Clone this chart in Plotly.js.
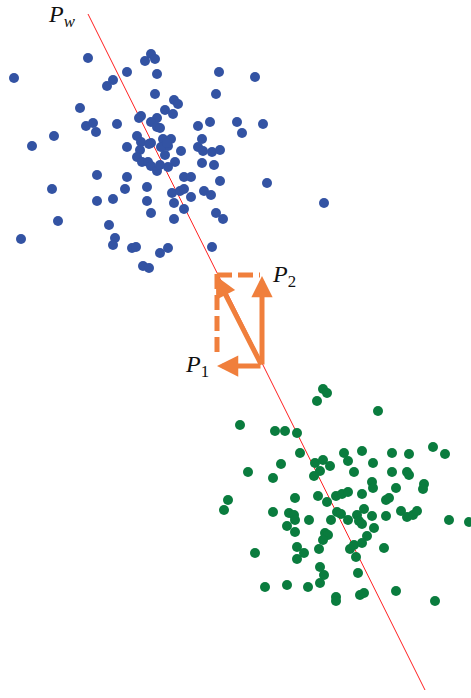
<!DOCTYPE html>
<html>
<head>
<meta charset="utf-8">
<script src="https://cdn.plot.ly/plotly-3.0.1.min.js"></script>
<style>html,body{margin:0;padding:0;background:#fff;}#chart{width:471px;height:698px;}</style>
</head>
<body>
<div id="chart"></div>
<script>
// Class 1 (blue) points
const blueX = [88,14,151,145,155,127,113,107,157,219,255,155,216,80,174,178,141,165,173,157,151,157,160,198,210,237,242,263,117,86,93,96,54,32,137,141,151,163,171,168,161,127,140,181,198,202,203,212,220,137,142,165,175,202,214,148,151,157,168,97,127,184,191,52,125,147,220,267,172,180,184,204,211,97,113,147,174,191,324,184,151,216,223,174,58,109,21,115,113,132,136,160,168,212,143,149,149,160,139,167];
const blueY = [58,78,54,61,59,72,80,86,74,72,77,94,94,108,100,104,116,110,114,118,122,127,128,126,122,122,133,124,124,126,123,132,136,146,136,142,143,139,139,146,147,147,150,151,147,139,151,152,150,157,162,155,162,163,165,162,166,171,167,175,177,177,177,189,189,187,181,183,193,191,189,191,195,201,199,201,203,197,203,209,213,213,219,219,221,225,239,238,245,248,247,253,248,247,266,268,144,165,118,143];
// Class 2 (green) points
const greenX = [323,327,317,378,240,275,285,297,300,344,362,392,409,433,445,281,248,273,315,323,330,320,314,348,373,354,392,407,409,372,373,396,424,423,228,224,295,318,327,336,342,348,362,386,389,273,289,294,295,287,295,309,331,337,341,348,357,359,364,362,372,374,386,401,407,413,417,449,469,325,328,323,367,255,297,304,297,319,350,354,362,356,384,320,324,320,358,265,287,308,336,336,360,364,396,435];
const greenY = [389,393,401,411,425,431,431,433,453,453,451,453,454,447,454,464,472,478,463,460,466,471,476,461,463,472,472,472,475,482,488,488,484,489,500,510,498,496,502,496,494,492,494,500,498,512,513,515,520,526,532,520,520,512,514,520,515,521,509,524,516,528,516,511,517,515,511,520,522,533,535,540,536,553,547,553,559,549,549,545,543,557,548,567,575,583,573,587,585,587,597,601,595,593,591,601];
// Projection direction line P_w
const lineX = [88, 425];
const lineY = [14, 690];
// Vectors: dashed components and solid arrows (tail -> head)
const dashVX = [217, 217], dashVY = [274, 358];
const dashHX = [217, 260], dashHY = [275, 275];
const arrowTail = [262, 366];
const arrowHeadsX = [262, 216, 217];
const arrowHeadsY = [276, 276, 366];
// Labels
const labelText = ['<i>P</i><sub><i>w</i></sub>', '<i>P</i><sub>2</sub>', '<i>P</i><sub>1</sub>'];
const labelX = [62, 284, 197];
const labelY = [16, 276, 366];

const orange = '#F07F3C';
const traces = [
  {x: lineX, y: lineY, mode: 'lines', line: {color: '#ff2020', width: 1}, hoverinfo: 'skip'},
  {x: blueX, y: blueY, mode: 'markers', marker: {color: '#3353A3', size: 10}},
  {x: greenX, y: greenY, mode: 'markers', marker: {color: '#0A7C3E', size: 10}},
  {x: dashVX, y: dashVY, mode: 'lines', line: {color: orange, width: 5, dash: '15px,6px'}},
  {x: dashHX, y: dashHY, mode: 'lines', line: {color: orange, width: 5, dash: '15px,6px'}}
];
const annotations = [];
for (let i = 0; i < arrowHeadsX.length; i++) {
  annotations.push({
    x: arrowHeadsX[i], y: arrowHeadsY[i], ax: arrowTail[0], ay: arrowTail[1],
    xref: 'x', yref: 'y', axref: 'x', ayref: 'y', text: '', showarrow: true,
    arrowhead: 2, arrowsize: 0.85, arrowwidth: 5, arrowcolor: orange, standoff: 0, startstandoff: 0
  });
}
for (let i = 0; i < labelText.length; i++) {
  annotations.push({
    x: labelX[i], y: labelY[i], xref: 'x', yref: 'y', text: labelText[i], showarrow: false,
    font: {family: 'Liberation Serif, DejaVu Serif, serif', size: 24, color: '#111'}
  });
}
const layout = {
  width: 471, height: 698,
  margin: {l: 0, r: 0, t: 0, b: 0},
  paper_bgcolor: '#fff', plot_bgcolor: '#fff',
  showlegend: false,
  xaxis: {range: [0, 471], visible: false, fixedrange: true},
  yaxis: {range: [698, 0], visible: false, fixedrange: true},
  annotations: annotations
};
Plotly.newPlot('chart', traces, layout, {staticPlot: true, displayModeBar: false});
</script>
</body>
</html>
